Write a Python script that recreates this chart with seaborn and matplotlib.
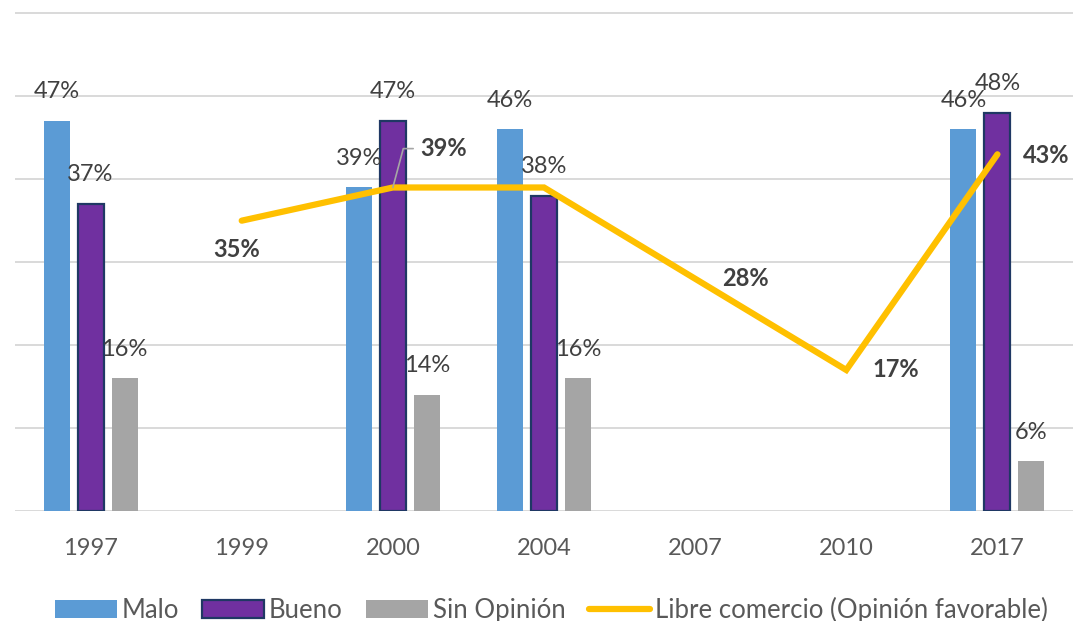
import numpy as np
import pandas as pd
import matplotlib
matplotlib.use("Agg")
import matplotlib.pyplot as plt
from matplotlib.patches import Patch
from matplotlib.lines import Line2D
import seaborn as sns

sns.set_style("white")
plt.rcParams["font.family"] = ["Lato", "DejaVu Sans"]

# ===== datos =====
years = ["1997", "1999", "2000", "2004", "2007", "2010", "2017"]
malo = [47, np.nan, 39, 46, np.nan, np.nan, 46]
bueno = [37, np.nan, 47, 38, np.nan, np.nan, 48]
sin_opinion = [16, np.nan, 14, 16, np.nan, np.nan, 6]
libre_years = ["1999", "2000", "2004", "2007", "2010", "2017"]
libre = [35, 39, 39, 28, 17, 43]
libre_labeled = ["1999", "2000", "2007", "2010", "2017"]

series = ["Malo", "Bueno", "Sin Opinión"]
line_name = "Libre comercio (Opinión favorable)"
colors = {"Malo": "#5B9BD5", "Bueno": "#7030A0", "Sin Opinión": "#A5A5A5"}
gold = "#FFC000"
text_c = "#404040"
tick_c = "#595959"

df = pd.DataFrame({"year": years, "Malo": malo, "Bueno": bueno, "Sin Opinión": sin_opinion})
long = df.melt(id_vars="year", var_name="serie", value_name="valor").dropna()

fig = plt.figure(figsize=(10.73, 6.21), dpi=100)
ax = fig.add_axes([15 / 1073, 110 / 621, 1 - 15 / 1073, 506 / 621])

sns.barplot(data=long, x="year", y="valor", hue="serie", order=years, hue_order=series,
            palette=colors, saturation=1, width=0.675, gap=0.235, errorbar=None,
            legend=False, ax=ax)

# borde oscuro para "Bueno"
for cont, name in zip(ax.containers, series):
    for p in cont.patches:
        if name == "Bueno":
            p.set_edgecolor("#1F3864")
            p.set_linewidth(1.6)
        else:
            p.set_edgecolor("none")
        h = p.get_height()
        if np.isnan(h):
            continue
        ax.annotate(f"{h:.0f}%", (p.get_x() + p.get_width() / 2, h),
                    xytext=(0, 21), textcoords="offset points",
                    ha="center", va="center", fontsize=17, color=text_c)

line_x = [years.index(y) for y in libre_years]
sns.lineplot(x=line_x, y=libre, color=gold, linewidth=4.5, sort=False, ax=ax,
             solid_capstyle="round", solid_joinstyle="miter")

# etiquetas de la línea
offsets = {"1999": (-4, -21), "2007": (36, 0), "2010": (36, 0), "2017": (35, -1)}
for y, v in zip(libre_years, libre):
    if y not in libre_labeled:
        continue
    xi = years.index(y)
    if y == "2000":
        ax.annotate(f"{v}%", (xi, v), xytext=(20, 28), textcoords="offset points",
                    ha="left", va="center", fontsize=17, fontweight="bold", color=text_c,
                    arrowprops=dict(arrowstyle="-", color="#A6A6A6", lw=1.2,
                                    connectionstyle="angle,angleA=0,angleB=75,rad=0",
                                    relpos=(0, 0.5), shrinkA=3, shrinkB=0))
    else:
        ax.annotate(f"{v}%", (xi, v), xytext=offsets[y], textcoords="offset points",
                    ha="center", va="center", fontsize=17, fontweight="bold", color=text_c)

ax.set_xlim(-0.5, len(years) - 0.5)
ax.set_ylim(0, 61)
ax.set_yticks(range(0, 61, 10))
ax.set_xticks(range(len(years)))
ax.set_xticklabels(years)
ax.yaxis.grid(True, color="#D9D9D9", linewidth=1.4)
ax.set_axisbelow(True)
ax.tick_params(axis="y", left=False, labelleft=False)
ax.tick_params(axis="x", bottom=False, pad=16, labelsize=17, labelcolor=tick_c)
ax.set_xlabel("")
ax.set_ylabel("")
sns.despine(ax=ax, left=True, bottom=True)

handles = [Patch(facecolor=colors["Malo"], edgecolor="none"),
           Patch(facecolor=colors["Bueno"], edgecolor="#1F3864", linewidth=1.6),
           Patch(facecolor=colors["Sin Opinión"], edgecolor="none"),
           Line2D([0], [0], color=gold, linewidth=4.5, solid_capstyle="round")]
fig.legend(handles, series + [line_name], loc="lower center", bbox_to_anchor=(0.514, -0.04),
           ncol=4, frameon=False, fontsize=18.5, handlelength=2.4, handleheight=0.7,
           handletextpad=0.2, columnspacing=0.9, labelcolor=tick_c)

fig.savefig("out.png", dpi=100)
